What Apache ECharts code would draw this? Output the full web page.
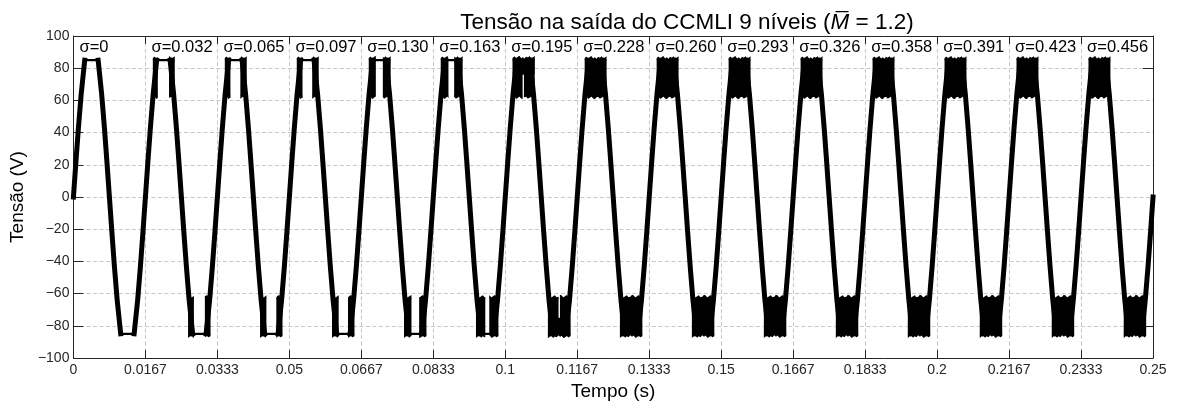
<!DOCTYPE html>
<html>
<head>
<meta charset="utf-8">
<title>Tensão na saída do CCMLI 9 níveis</title>
<script src="https://cdn.jsdelivr.net/npm/echarts@6.0.0/dist/echarts.min.js"></script>
<style>
  html, body { margin: 0; padding: 0; background: #fff; }
  #chart { width: 1177px; height: 407px; }
</style>
</head>
<body>
<div id="chart"></div>
<script>
// Per-cycle disturbance level annotated above each fundamental cycle
const sigmaLabels = ['0', '0.032', '0.065', '0.097', '0.130', '0.163', '0.195', '0.228',
                     '0.260', '0.293', '0.326', '0.358', '0.391', '0.423', '0.456'];

// Time axis tick labels (s), one per 60 Hz cycle
const timeTickLabels = ['0', '0.0167', '0.0333', '0.05', '0.0667', '0.0833', '0.1', '0.1167',
                        '0.1333', '0.15', '0.1667', '0.1833', '0.2', '0.2167', '0.2333', '0.25'];

// Fundamental cycle length (ms)
const cycleMs = 16.667;

// Staircase corners over one cycle: time inside the cycle (ms) and output level (V)
const stairMs = [0, 0.56, 1.14, 1.79, 2.61, 5.72, 6.54, 7.19, 7.77, 8.33,
                 8.89, 9.47, 10.12, 10.94, 14.06, 14.88, 15.53, 16.11, 16.67];
const stairV  = [0, 21.25, 42.5, 63.75, 85, 85, 63.75, 42.5, 21.25, 0,
                 -21.25, -42.5, -63.75, -85, -85, -63.75, -42.5, -21.25, 0];

// Chattering band at the crest / trough of each cycle (between the two outer levels)
const crestSpanMs  = [1.72, 6.80];    // start / end of the positive band inside a cycle
const troughSpanMs = [9.88, 15.08];   // start / end of the negative band inside a cycle
const crestMidMs = 4.17;
const troughMidMs = 12.5;
// half width (ms) of the clear notch left between the chattering bars; 0 = solid block
const crestNotchMs  = [null, 1.30, 1.15, 1.12, 0.81, 0.66, 0.38, 0, 0, 0, 0, 0, 0, 0, 0];
const troughNotchMs = [null, 1.27, 1.15, 1.08, 0.89, 0.46, 0.40, 0, 0, 0, 0, 0, 0, 0, 0];
// how far (|V|) the clear notch reaches; 85 = open up to the flat top
const crestNotchTopV  = [85, 85, 85, 85, 85, 85, 76, 0, 0, 0, 0, 0, 0, 0, 0];
const troughNotchTopV = [85, 85, 85, 85, 85, 85, 75, 0, 0, 0, 0, 0, 0, 0, 0];
// ragged outer edge and inner floor of the chattering band (|V|)
const bandEdgeV  = [86.4, 87.3, 85.8, 86.9, 87.6, 86.1, 86.8, 85.9, 87.1, 86.5, 87.4, 86.0, 86.7, 87.5];
const bandFloorV = [61.8, 62.6, 60.9, 61.5, 62.4, 61.2, 60.7, 61.9, 62.3, 61.0, 61.7, 62.5, 61.3, 62.0];
const bandCoreV = [62.5, 85.5];       // solid part of the band (|V|)

const FONT = "'Liberation Sans', Arial, Helvetica, sans-serif";

// ---- build the staircase traces ----
const ramps = [];
const flats = [];
for (let k = 0; k < sigmaLabels.length; k++) {
  const t0 = k * cycleMs;
  for (let i = 0; i < stairMs.length; i++) {
    ramps.push([(t0 + stairMs[i]) / 1000, stairV[i]]);
    if (i === 4 || i === 13) ramps.push([(t0 + stairMs[i]) / 1000, null]);
  }
  flats.push([(t0 + stairMs[4]) / 1000, stairV[4]], [(t0 + stairMs[5]) / 1000, stairV[5]],
             [(t0 + stairMs[5]) / 1000, null],
             [(t0 + stairMs[13]) / 1000, stairV[13]], [(t0 + stairMs[14]) / 1000, stairV[14]],
             [(t0 + stairMs[14]) / 1000, null]);
}

// one item per crest / trough that shows a chattering band
const bands = [];
for (let k = 0; k < sigmaLabels.length; k++) {
  const t0 = k * cycleMs;
  if (crestNotchMs[k] !== null) bands.push([(t0 + crestMidMs) / 1000, 75, k, 1]);
  if (troughNotchMs[k] !== null) bands.push([(t0 + troughMidMs) / 1000, -75, k, -1]);
}

const sigmaItems = sigmaLabels.map((s, k) => [(k * cycleMs + 1.4) / 1000, 93, k]);

// ragged profile between times a and b, the profile being spread over [L, R]
function raggedEdge(a, b, L, R, profile) {
  const pts = [];
  const n = profile.length;
  const idx = (x) => Math.min(n - 1, Math.max(0, Math.round((x - L) / (R - L) * (n - 1))));
  pts.push([a, profile[idx(a)]]);
  for (let i = 0; i < n; i++) {
    const x = L + (R - L) * i / (n - 1);
    if (x > a && x < b) pts.push([x, profile[i]]);
  }
  pts.push([b, profile[idx(b)]]);
  return pts;
}

function renderBand(params, api) {
  const k = api.value(2);
  const sgn = api.value(3);
  const t0 = k * cycleMs;
  const span = sgn > 0 ? crestSpanMs : troughSpanMs;
  const L = t0 + span[0];
  const R = t0 + span[1];
  const C = t0 + (sgn > 0 ? crestMidMs : troughMidMs);
  const notch = (sgn > 0 ? crestNotchMs : troughNotchMs)[k];
  const notchTop = (sgn > 0 ? crestNotchTopV : troughNotchTopV)[k];
  const edge = sgn > 0 ? bandEdgeV : bandEdgeV.slice().reverse();
  const floor = sgn > 0 ? bandFloorV : bandFloorV.slice().reverse();
  const toPx = (p) => api.coord([p[0] / 1000, sgn * p[1]]);
  const shapes = [];
  const style = { fill: '#000', stroke: null };
  const fillPoly = (pts) => shapes.push({ type: 'polygon', shape: { points: pts.map(toPx) }, style });
  const fillRect = (a, b, lo, hi) => {
    const p1 = toPx([a, hi]);
    const p2 = toPx([b, lo]);
    shapes.push({
      type: 'rect',
      shape: { x: Math.min(p1[0], p2[0]), y: Math.min(p1[1], p2[1]),
               width: Math.abs(p2[0] - p1[0]), height: Math.abs(p2[1] - p1[1]) },
      style
    });
  };
  // solid bar between a and b, with ragged outer edge and ragged inner floor
  const bar = (a, b, lo) => {
    fillRect(a, b, lo, bandCoreV[1]);
    const top = raggedEdge(a, b, L, R, edge);
    fillPoly([[a, bandCoreV[1] - 0.5]].concat(top).concat([[b, bandCoreV[1] - 0.5]]));
    if (lo === bandCoreV[0]) {
      const bot = raggedEdge(a, b, L, R, floor);
      fillPoly([[a, bandCoreV[0] + 0.5]].concat(bot).concat([[b, bandCoreV[0] + 0.5]]));
    }
  };
  if (notch > 0 && notchTop >= 85) {
    bar(L, C - notch, bandCoreV[0]);
    bar(C + notch, R, bandCoreV[0]);
  } else if (notch > 0) {
    bar(L, R, notchTop);
    bar(L, C - notch * 0.4, bandCoreV[0]);
    bar(C + notch * 0.4, R, bandCoreV[0]);
  } else {
    bar(L, R, bandCoreV[0]);
  }
  return { type: 'group', children: shapes };
}

function renderSigma(params, api) {
  const p = api.coord([api.value(0), api.value(1)]);
  return {
    type: 'text',
    x: p[0],
    y: p[1],
    style: {
      text: 'σ=' + sigmaLabels[api.value(2)],
      fill: '#000',
      font: '16.5px ' + FONT,
      align: 'left',
      verticalAlign: 'middle'
    }
  };
}

const chart = echarts.init(document.getElementById('chart'), null, { renderer: 'canvas' });

const gridLine = { show: true, lineStyle: { color: '#c8c8c8', type: [4, 2.5], width: 1 } };

chart.setOption({
  animation: false,
  backgroundColor: '#fff',
  title: {
    text: 'Tensão na saída do CCMLI 9 níveis ({m|M\u0305} = 1.2)',
    left: 682,
    top: 6,
    textAlign: 'center',
    textStyle: {
      fontFamily: FONT, fontSize: 22.5, fontWeight: 'normal', color: '#000',
      rich: { m: { fontFamily: FONT, fontSize: 22.5, fontStyle: 'italic', color: '#000' } }
    }
  },
  grid: { left: 68, right: 24, top: 36, bottom: 49, containLabel: false },
  xAxis: [{
    type: 'value', min: 0, max: 0.25, interval: 1 / 60,
    name: 'Tempo (s)', nameLocation: 'middle', nameGap: 24,
    nameTextStyle: { fontFamily: FONT, fontSize: 19, color: '#000', verticalAlign: 'top' },
    axisLine: { show: true, onZero: false, lineStyle: { color: '#262626', width: 1 } },
    axisTick: { show: true, inside: true, length: 8, lineStyle: { color: '#262626' } },
    axisLabel: {
      fontFamily: FONT, fontSize: 14, color: '#262626', margin: 5,
      formatter: (v) => timeTickLabels[Math.round(v * 60)] ?? ''
    },
    splitLine: gridLine
  }, {
    type: 'value', position: 'top', min: 0, max: 0.25, interval: 1 / 60,
    axisLine: { show: true, onZero: false, lineStyle: { color: '#262626', width: 1 } },
    axisTick: { show: true, inside: true, length: 8, lineStyle: { color: '#262626' } },
    axisLabel: { show: false },
    splitLine: { show: false }
  }],
  yAxis: [{
    type: 'value', min: -100, max: 100, interval: 20,
    name: 'Tensão (V)', nameLocation: 'middle', nameGap: 40, nameRotate: 90,
    nameTextStyle: { fontFamily: FONT, fontSize: 19, color: '#000' },
    axisLine: { show: true, onZero: false, lineStyle: { color: '#262626', width: 1 } },
    axisTick: { show: true, inside: true, length: 10, lineStyle: { color: '#262626' } },
    axisLabel: {
      fontFamily: FONT, fontSize: 14, color: '#262626', margin: 4,
      formatter: (v) => (v < 0 ? '\u2212' + Math.abs(v) : String(v))
    },
    splitLine: gridLine
  }, {
    type: 'value', position: 'right', min: -100, max: 100, interval: 20,
    axisLine: { show: true, onZero: false, lineStyle: { color: '#262626', width: 1 } },
    axisTick: { show: true, inside: true, length: 10, customValues: [-80, 80], lineStyle: { color: '#262626' } },
    axisLabel: { show: false },
    splitLine: { show: false }
  }],
  series: [{
    name: 'band',
    type: 'custom',
    renderItem: renderBand,
    data: bands,
    z: 2,
    silent: true
  }, {
    name: 'ramps',
    type: 'line',
    data: ramps,
    showSymbol: false,
    connectNulls: false,
    lineStyle: { color: '#000', width: 5, cap: 'square', join: 'miter' },
    z: 3,
    silent: true
  }, {
    name: 'flats',
    type: 'line',
    data: flats,
    showSymbol: false,
    connectNulls: false,
    lineStyle: { color: '#000', width: 2.2 },
    z: 3,
    silent: true
  }, {
    name: 'sigma',
    type: 'custom',
    renderItem: renderSigma,
    data: sigmaItems,
    z: 4,
    clip: false,
    silent: true
  }]
});
</script>
</body>
</html>
